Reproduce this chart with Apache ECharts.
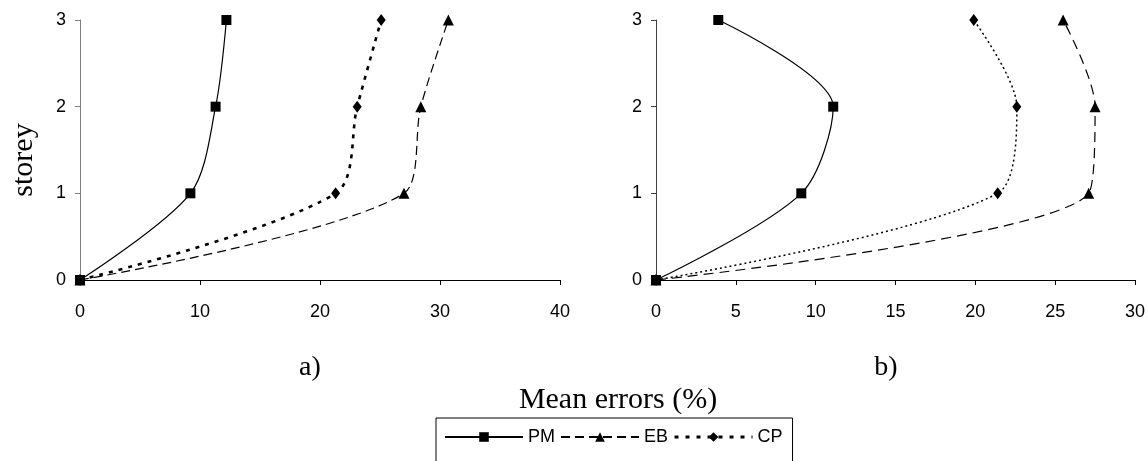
<!DOCTYPE html>
<html>
<head>
<meta charset="utf-8">
<script src="https://cdn.jsdelivr.net/npm/echarts@6/dist/echarts.min.js"></script>
<style>
  html, body { margin: 0; padding: 0; background: #fff; }
  #chart { width: 1148px; height: 461px; }
</style>
</head>
<body>
<div id="chart"></div>
<script>
// storey levels (y axis)
var storeys = [0, 1, 2, 3];
// mean errors (%) - plot a)
var aPM = [0, 9.2, 11.3, 12.2];
var aEB = [0, 27.0, 28.4, 30.7];
var aCP = [0, 21.3, 23.1, 25.1];
// mean errors (%) - plot b)
var bPM = [0, 9.1, 11.1, 3.9];
var bEB = [0, 27.1, 27.5, 25.5];
var bCP = [0, 21.4, 22.6, 19.9];

function pairs(xs) {
    return xs.map(function (v, i) { return [v, storeys[i]]; });
}

var serif = 'Liberation Serif';
var sans = "'Liberation Sans Narrow', 'Liberation Sans'";

function xAxis(idx, max, step) {
    return {
        type: 'value', gridIndex: idx, min: 0, max: max, interval: step,
        axisLine: { onZero: false, lineStyle: { color: '#000', width: 1 } },
        axisTick: { show: true, length: 5, lineStyle: { color: '#000' } },
        axisLabel: { color: '#000', fontFamily: sans, fontSize: 18, margin: 23 },
        splitLine: { show: false }
    };
}
function yAxis(idx, col) {
    return {
        type: 'value', gridIndex: idx, min: 0, max: 3, interval: 1,
        axisLine: { show: true, onZero: false, lineStyle: { color: col, width: 1 } },
        axisTick: { show: true, length: 5, lineStyle: { color: col } },
        axisLabel: { color: '#000', fontFamily: sans, fontSize: 18, margin: 14 },
        splitLine: { show: false }
    };
}

// 每条线的样式
function line(name, idx, xs, sym, symSize, lineType, width) {
    return {
        name: name, type: 'line', xAxisIndex: idx, yAxisIndex: idx,
        data: pairs(xs), smooth: 0.3,
        symbol: sym, symbolSize: symSize, showSymbol: true,
        itemStyle: { color: '#000' },
        lineStyle: { color: '#000', width: width, type: lineType },
        z: 3
    };
}

var myChart = echarts.init(document.getElementById('chart'));
var option = {
    animation: false,
    backgroundColor: '#fff',
    grid: [
        { left: 80, top: 20, width: 480, height: 260 },
        { left: 656, top: 20, width: 480, height: 260 }
    ],
    xAxis: [xAxis(0, 40, 10), xAxis(1, 30, 5)],
    yAxis: [yAxis(0, '#808080'), yAxis(1, '#404040')],
    legend: {
        data: ['PM', 'EB', {name: 'CP', lineStyle: { width: 3, type: [4, 7] }}],
        left: 436, top: 418,
        padding: [10, 10, 40, 8],
        borderColor: '#000', borderWidth: 1,
        itemWidth: 78, itemHeight: 12, itemGap: 5,
        textStyle: { color: '#000', fontFamily: sans, fontSize: 18 }
    },
    graphic: [
        { type: 'text', x: 24, y: 160, rotation: Math.PI / 2,
          style: { text: 'storey', font: '30px ' + serif, fill: '#000', align: 'center', verticalAlign: 'middle' } },
        { type: 'text', x: 310, y: 368,
          style: { text: 'a)', font: '28px ' + serif, fill: '#000', align: 'center', verticalAlign: 'middle' } },
        { type: 'text', x: 886, y: 368,
          style: { text: 'b)', font: '28px ' + serif, fill: '#000', align: 'center', verticalAlign: 'middle' } },
        { type: 'text', x: 618, y: 400,
          style: { text: 'Mean errors (%)', font: '30px ' + serif, fill: '#000', align: 'center', verticalAlign: 'middle' } }
    ],
    series: [
        line('PM', 0, aPM, 'rect', 10, 'solid', 1.2),
        line('EB', 0, aEB, 'triangle', 11, [9, 5], 1.2),
        line('CP', 0, aCP, 'diamond', [9, 12], [4, 6], 2.6),
        line('PM', 1, bPM, 'rect', 10, 'solid', 1.2),
        line('EB', 1, bEB, 'triangle', 11, [10, 6], 1.2),
        line('CP', 1, bCP, 'diamond', [9, 12], [2, 3], 1.5)
    ]
};
myChart.setOption(option);
</script>
</body>
</html>
